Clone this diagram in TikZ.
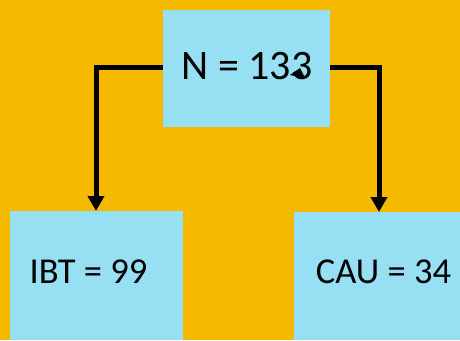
\documentclass[tikz,border=0pt]{standalone}
\usepackage{fontspec}
\setmainfont{Carlito}
\usetikzlibrary{arrows.meta}
\definecolor{bgorange}{RGB}{245,185,0}
\definecolor{boxblue}{RGB}{151,223,243}
\begin{document}
\begin{tikzpicture}[x=1pt,y=-1pt,
  box/.style={fill=boxblue,draw=none,inner sep=0pt,outer sep=0pt},
  lbl/.style={font=\fontsize{42}{48}\selectfont,inner sep=0pt,text=black},
  lbls/.style={font=\fontsize{36.5}{44}\selectfont,inner sep=0pt,text=black},
  conn/.style={line width=5pt,-{Triangle[length=15pt,width=16pt]}}]
\fill[bgorange] (0,0) rectangle (460,340);
\useasboundingbox (0,0) rectangle (460,340);
\node[box,minimum width=167pt,minimum height=117pt] (top) at (246.5,68.5) {};
\node[box,minimum width=173pt,minimum height=129pt] (lbox) at (96.5,275.5) {};
\node[box,minimum width=166pt,minimum height=128pt] (rbox) at (377,276) {};
\node[lbl] (ttop) at (247,66) {N = 133};
\node[lbls] (tl) at (88.5,272) {IBT = 99};
\node[lbls] (tr) at (383.5,272) {CAU = 34};
\coordinate (lend) at (96,211);
\coordinate (rend) at (379,212);
\draw[conn] ([yshift=1pt]top.west) -| (lend);
\draw[conn] ([yshift=1pt]top.east) -| (rend);
\fill[black] (290,75) -- (300,68) -- (305,78) -- cycle;
\end{tikzpicture}
\end{document}
